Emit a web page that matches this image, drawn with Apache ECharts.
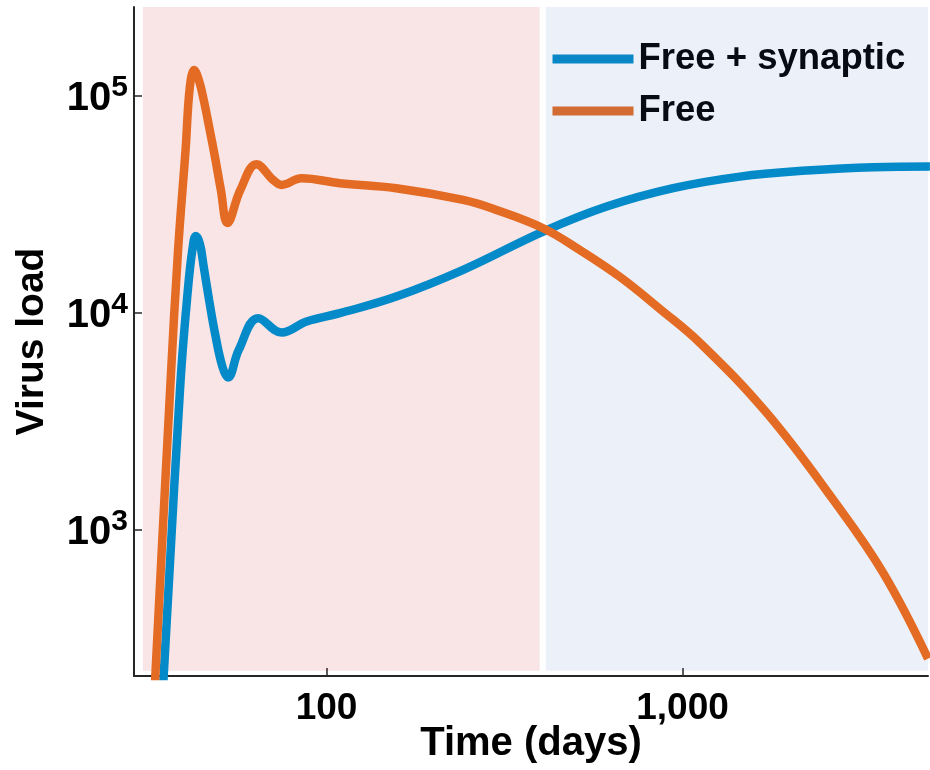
<!DOCTYPE html>
<html><head><meta charset="utf-8">
<script src="https://cdn.jsdelivr.net/npm/echarts@6/dist/echarts.min.js"></script>
<style>html,body{margin:0;padding:0;background:#fff}#c{width:930px;height:770px}</style>
</head><body><div id="c"></div>
<script>
// ---- data ----
const seriesNames = ['Free + synaptic', 'Free'];
const daysSyn  = [34.6, 38.85, 40.8, 42.0, 42.95, 44.1, 45.2, 46.8, 48.6, 51.0, 52.9, 56.7, 64.3, 74.8, 87.9, 109, 157, 242, 406, 612, 941, 1449, 2230, 3431, 4951];
const loadSyn  = [165, 4658, 12760, 19500, 22630, 20800, 16350, 11480, 8087, 5655, 5033, 6751, 9454, 8114, 9120, 9968, 11890, 15790, 23690, 30900, 37560, 42470, 45280, 46930, 47230];
const daysFree = [32.8, 36.5, 38.3, 40.2, 41.3, 42.5, 43.8, 45.2, 47.0, 48.9, 50.5, 52.7, 57.3, 63.6, 70.8, 74.8, 85.1, 109, 157, 242, 300, 406, 514, 667, 864, 1119, 1722, 2649, 3660, 4890];
const loadFree = [165, 4910, 19500, 56400, 108900, 131800, 118500, 95850, 69700, 49650, 36900, 25980, 36900, 48450, 41020, 38900, 41760, 39600, 37560, 33170, 29830, 24560, 19510, 14650, 10430, 7275, 3461, 1375, 633, 255];
const xTicks = [100, 1000];
const yTicks = [1000, 10000, 100000];
const phase1 = [30.5, 397];   // shaded early phase (days)
const phase2 = [413, 4890];   // shaded late phase (days)
const xRange = [28.8, 4890];
const yRange = [212, 257000];
const shadeBottom = 224;

const FONT = "'Liberation Sans', Arial, Helvetica, sans-serif";
const pair = (xs, ys) => xs.map((x, i) => [x, ys[i]]);

const chart = echarts.init(document.getElementById('c'), null, {renderer: 'canvas'});
chart.setOption({
  animation: false,
  backgroundColor: '#ffffff',
  grid: {left: 134, right: 2, top: 7, bottom: 94, containLabel: false, outerBoundsMode: 'none'},
  legend: {
    data: seriesNames, orient: 'vertical', left: 548, top: 39, padding: 0,
    itemWidth: 81, itemHeight: 10, itemGap: 12, z: 1, selectedMode: false,
    lineStyle: {width: 9},
    textStyle: {fontSize: 36.5, fontWeight: 'bold', fontFamily: FONT, color: '#000', lineHeight: 40}
  },
  xAxis: {
    type: 'log', logBase: 10, min: xRange[0], max: xRange[1],
    name: 'Time (days)', nameLocation: 'middle', nameGap: 48, nameMoveOverlap: false,
    nameTextStyle: {fontSize: 40, fontWeight: 'bold', fontFamily: FONT, color: '#000'},
    axisLine: {lineStyle: {color: '#262626', width: 2}},
    axisTick: {inside: true, length: 8, lineStyle: {color: '#262626', width: 1.5}, customValues: xTicks},
    axisLabel: {customValues: xTicks, margin: 14, fontSize: 37, fontWeight: 'bold', fontFamily: FONT, color: '#000',
      formatter: v => Number(v).toLocaleString('en-US')},
    splitLine: {show: false}, minorTick: {show: false}
  },
  yAxis: {
    type: 'log', logBase: 10, min: yRange[0], max: yRange[1],
    name: 'Virus load', nameLocation: 'middle', nameGap: 82, nameMoveOverlap: false,
    nameTextStyle: {fontSize: 39, fontWeight: 'bold', fontFamily: FONT, color: '#000'},
    axisLine: {lineStyle: {color: '#262626', width: 2}},
    axisTick: {inside: true, length: 8, lineStyle: {color: '#262626', width: 1.5}, customValues: yTicks},
    axisLabel: {customValues: yTicks, margin: 6, align: 'right',
      formatter: v => '{b|10}{s|' + Math.round(Math.log10(v)) + '}',
      rich: {
        b: {fontSize: 40, fontWeight: 'bold', fontFamily: FONT, color: '#000', lineHeight: 47, verticalAlign: 'bottom'},
        s: {fontSize: 30, fontWeight: 'bold', fontFamily: FONT, color: '#000', lineHeight: 47, verticalAlign: 'top'}
      }},
    splitLine: {show: false}, minorTick: {show: false}
  },
  series: [
    {name: seriesNames[0], type: 'line', data: pair(daysSyn, loadSyn), showSymbol: false, symbol: 'none',
     smooth: 0.4, z: 3, lineStyle: {color: '#048AC8', width: 8.5}, itemStyle: {color: '#048AC8'}},
    {name: seriesNames[1], type: 'line', data: pair(daysFree, loadFree), showSymbol: false, symbol: 'none',
     smooth: 0.4, z: 4, lineStyle: {color: '#E46B23', width: 8.5}, itemStyle: {color: '#E46B23'}},
    {name: 'phases', type: 'line', data: [], z: 10, silent: true,
     markArea: {silent: true, data: [
       [{xAxis: phase1[0], yAxis: shadeBottom, itemStyle: {color: 'rgba(195,0,0,0.1)'}}, {xAxis: phase1[1], yAxis: yRange[1]}],
       [{xAxis: phase2[0], yAxis: shadeBottom, itemStyle: {color: 'rgba(65,115,195,0.1)'}}, {xAxis: phase2[1], yAxis: yRange[1]}]
     ]}}
  ]
});
</script></body></html>
